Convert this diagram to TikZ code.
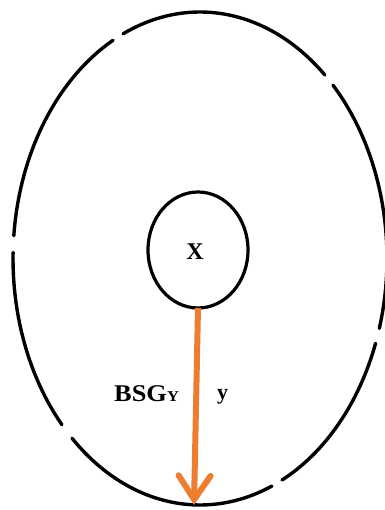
\documentclass[tikz,border=0pt]{standalone}
\usepackage{fontspec}
\setmainfont{Liberation Serif}
\usetikzlibrary{shapes.geometric,arrows.meta,calc}
\definecolor{arroworange}{RGB}{237,125,49}
\tikzset{
  rim/.style={line width=3.4pt, line cap=round},
  inner/.style={ellipse, draw, line width=3.2pt, minimum width=100pt, minimum height=116pt, inner sep=0pt, outer sep=0pt},
  lbl/.style={font=\bfseries\fontsize{24}{28}\selectfont, inner sep=0pt},
  flow/.style={draw=arroworange, line width=6pt, -{Straight Barb[length=24pt,width=32pt,line cap=round]}}
}
\begin{document}
\begin{tikzpicture}[x=1pt,y=1pt]
\useasboundingbox (0,0) rectangle (384,510);
% outer ellipse with small gaps
\coordinate (oc) at (200,251.5);
\def\rx{187}\def\ry{246.5}
\foreach \a/\b in {-16.5/44.7, 48.1/114.3, 117.7/174.7, 178.6/222.4, 226.8/292.6, 296/339.9}{
  \draw[rim] ($(oc)+({\rx*cos(\a)},{\ry*sin(\a)})$) arc[start angle=\a, end angle=\b, x radius=\rx, y radius=\ry];
}
% inner ellipse
\node[inner] (x) at (198,260) {};
\node[lbl, anchor=center] (xl) at (195,258) {X};
% arrow
\coordinate (tip) at (194,5);
\draw[flow] (x.south) -- (tip);
% labels
\node[lbl, anchor=base west] (bsg) at (114,108) {\scalebox{1.1}[1]{BSG}\scalebox{1.1}[1]{\fontsize{15}{18}\selectfont Y}};
\node[lbl, anchor=base west, font=\bfseries\fontsize{22}{26}\selectfont] (yl) at (217,110) {y};
\end{tikzpicture}
\end{document}
